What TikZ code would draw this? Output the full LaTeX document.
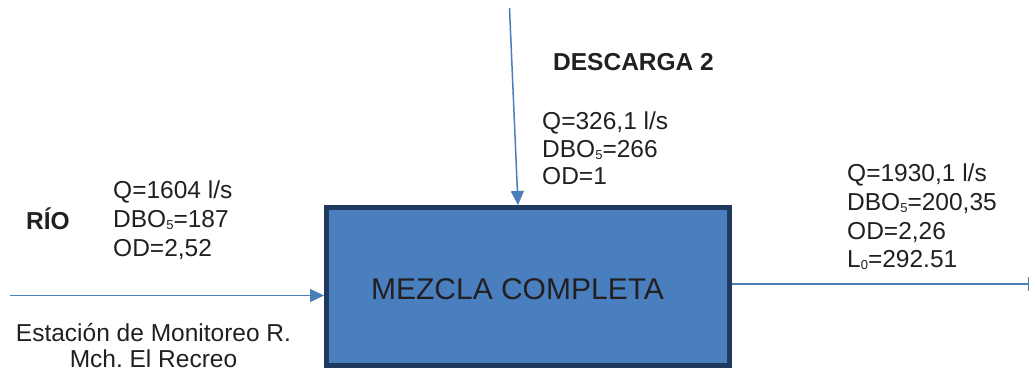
\documentclass[tikz,border=0pt]{standalone}
\usepackage{fontspec}
\setmainfont{Liberation Sans}
\usetikzlibrary{arrows.meta}
\definecolor{flowblue}{HTML}{4A7EBB}
\definecolor{boxfill}{HTML}{4A7FBF}
\definecolor{boxedge}{HTML}{1F3A5E}
\definecolor{ink}{HTML}{231F20}
% small lowered index, as in DBO5 and L0
\newcommand\lowidx[1]{\raisebox{-2pt}{\fontsize{13}{13}\selectfont #1}}
\frenchspacing
\begin{document}
\begin{tikzpicture}[x=1pt,y=-1pt,
  txt/.style={inner sep=0pt, anchor=base west, text=ink,
    font=\fontsize{24.5}{29}\selectfont},
  txtc/.style={txt, anchor=base},
  bold/.style={txt, font=\fontsize{24.5}{29}\selectfont\bfseries},
  flow/.style={draw=flowblue, line width=1.5pt,
    -{Triangle[length=14pt,width=13pt]}},
  outflow/.style={draw=flowblue, line width=1.5pt, -{Bar[width=14pt]}},
  mixbox/.style={draw=boxedge, fill=boxfill, line width=5pt,
    minimum width=403pt, minimum height=158pt, inner sep=0pt}]
\useasboundingbox (0,0) rectangle (1031,371);

% mixing tank
\node[mixbox] (mix) at (528,286.5) {};
\node[txtc, font=\fontsize{30}{34}\selectfont] (mixtxt) at (517.5,300) {MEZCLA COMPLETA};

% river inflow
\node[bold] (rio) at (26,230) {RÍO};
\node[txt] (rq) at (113,199) {Q=1604 l/s};
\node[txt] (rdbo) at (113,228) {DBO\lowidx{5}=187};
\node[txt] (rod) at (113,257) {OD=2,52};
\node[txtc] (est1) at (153.5,341.7) {Estación de Monitoreo R.};
\node[txtc] (est2) at (153.5,367.5) {Mch. El Recreo};
\coordinate (rioin) at (10,295.5);
\draw[flow] (rioin) -- (rioin -| mix.west);

% discharge 2 inflow
\node[bold] (desc) at (553,71) {DESCARGA 2};
\node[txt] (dq) at (542,130) {Q=326,1 l/s};
\node[txt] (ddbo) at (542,157.5) {DBO\lowidx{5}=266};
\node[txt] (dod) at (542,185) {OD=1};
\coordinate (descin) at (509.5,8);
\draw[flow] (descin) -- ([xshift=-10pt]mix.north);

% mixed outflow
\node[txt] (mq) at (847,182) {Q=1930,1 l/s};
\node[txt] (mdbo) at (847,210.5) {DBO\lowidx{5}=200,35};
\node[txt] (mod) at (847,239.3) {OD=2,26};
\node[txt] (ml0) at (847,267.5) {L\lowidx{0}=292.51};
\coordinate (outend) at (1029,284);
\draw[outflow] (outend -| mix.east) -- (outend);
\end{tikzpicture}
\end{document}
